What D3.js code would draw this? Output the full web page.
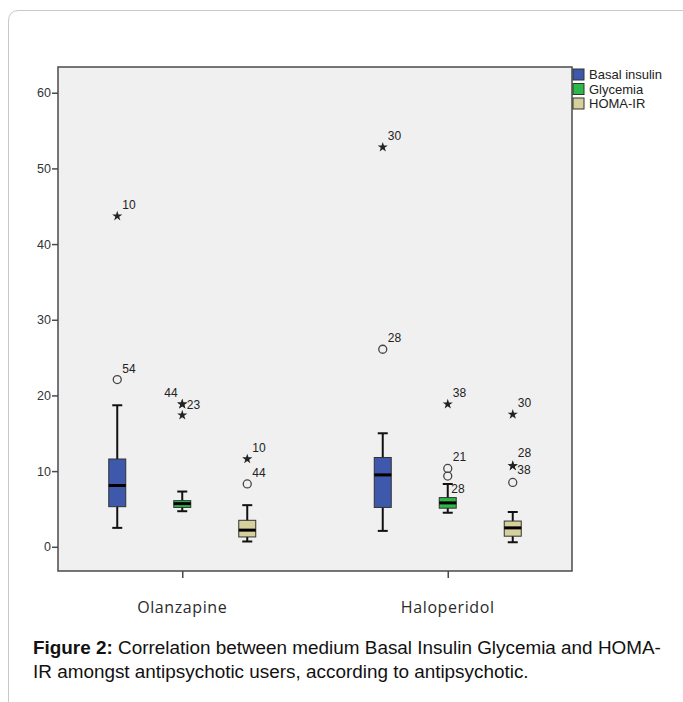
<!DOCTYPE html>
<html>
<head>
<meta charset="utf-8">
<script src="https://cdn.jsdelivr.net/npm/d3@7"></script>
<style>
  body { margin: 0; background: #fff; }
  #chart { position: relative; width: 683px; height: 702px; overflow: hidden; }
  .caption {
    position: absolute; left: 33px; top: 636px;
    font-family: 'Liberation Sans', Arial, sans-serif;
    font-size: 18.9px; line-height: 24px; color: #111; white-space: nowrap;
  }
</style>
</head>
<body>
<div id="chart"></div>
<script>
// categories
const groups = ['Olanzapine', 'Haloperidol'];
const series = ['Basal insulin', 'Glycemia', 'HOMA-IR'];
const yTicks = [0, 10, 20, 30, 40, 50, 60];

// box stats per series, one row per group: [low whisker, Q1, median, Q3, high whisker]
const basalInsulin = [[2.5, 5.3, 8.1, 11.6, 18.7], [2.1, 5.2, 9.5, 11.8, 15.0]];
const glycemia = [[4.7, 5.2, 5.7, 6.1, 7.3], [4.5, 5.1, 5.8, 6.5, 8.3]];
const homaIR = [[0.7, 1.3, 2.2, 3.5, 5.5], [0.6, 1.4, 2.5, 3.4, 4.6]];

// outliers: group, series, value, marker, case label, label side
const outliers = [
  ['Olanzapine', 'Basal insulin', 43.7, 'star', '10', 'ne'],
  ['Olanzapine', 'Basal insulin', 22.1, 'circle', '54', 'ne'],
  ['Olanzapine', 'Glycemia', 18.85, 'star', '44', 'nw'],
  ['Olanzapine', 'Glycemia', 18.85, 'star', '23', 'e'],
  ['Olanzapine', 'Glycemia', 17.4, 'star', '', 'ne'],
  ['Olanzapine', 'HOMA-IR', 11.6, 'star', '10', 'ne'],
  ['Olanzapine', 'HOMA-IR', 8.3, 'circle', '44', 'ne'],
  ['Haloperidol', 'Basal insulin', 52.8, 'star', '30', 'ne'],
  ['Haloperidol', 'Basal insulin', 26.1, 'circle', '28', 'ne'],
  ['Haloperidol', 'Glycemia', 18.85, 'star', '38', 'ne'],
  ['Haloperidol', 'Glycemia', 10.35, 'circle', '21', 'ne'],
  ['Haloperidol', 'Glycemia', 9.35, 'circle', '28', 'se'],
  ['Haloperidol', 'HOMA-IR', 17.5, 'star', '30', 'ne'],
  ['Haloperidol', 'HOMA-IR', 10.7, 'star', '28', 'n'],
  ['Haloperidol', 'HOMA-IR', 10.7, 'star', '38', 's'],
  ['Haloperidol', 'HOMA-IR', 8.5, 'circle', '', 'ne'],
];

const stats = [basalInsulin, glycemia, homaIR];
const colors = ['#3e58ac', '#2eb848', '#d6d09c'];

const width = 683;
const height = 702;
const plot = { left: 58, top: 67, right: 572, bottom: 571 };

const svg = d3.select('#chart')
  .append('svg')
  .attr('width', width)
  .attr('height', height)
  .style('position', 'absolute')
  .style('left', 0)
  .style('top', 0);

// card outline
svg.append('path')
  .attr('d', 'M8.5,702 V21 Q8.5,10.5 19,10.5 H683')
  .attr('fill', 'none')
  .attr('stroke', '#c8c8c8');

const y = d3.scaleLinear()
  .domain([-3.2, 63.4])
  .range([plot.bottom, plot.top]);

const x = d3.scalePoint()
  .domain(groups)
  .range([plot.left, plot.right])
  .padding(0.468);

const sub = d3.scaleBand()
  .domain(series)
  .range([-97.5, 97.5]);

const cx = (g, s) => x(g) + sub(s) + sub.bandwidth() / 2;

svg.append('rect')
  .attr('x', plot.left)
  .attr('y', plot.top)
  .attr('width', plot.right - plot.left)
  .attr('height', plot.bottom - plot.top)
  .attr('fill', '#f0f0f0')
  .attr('stroke', '#4a4a4a')
  .attr('stroke-width', 1.5);

// y axis
const yAxis = svg.append('g')
  .attr('transform', `translate(${plot.left},0)`)
  .call(d3.axisLeft(y).tickValues(yTicks).tickSize(6).tickPadding(1));
yAxis.select('.domain').remove();
yAxis.selectAll('line').attr('stroke', '#4a4a4a').attr('stroke-width', 1.5);
yAxis.selectAll('text')
  .attr('font-family', "'Liberation Sans', Arial, sans-serif")
  .attr('font-size', 12.5)
  .attr('fill', '#333');

// x axis
const xAxis = svg.append('g')
  .attr('transform', `translate(0,${plot.bottom})`)
  .call(d3.axisBottom(x).tickSize(7).tickFormat(() => ''));
xAxis.select('.domain').remove();
xAxis.selectAll('line').attr('stroke', '#4a4a4a').attr('stroke-width', 1.5);

svg.append('g')
  .selectAll('text')
  .data(groups)
  .join('text')
  .attr('x', (d) => x(d))
  .attr('y', 613)
  .attr('text-anchor', 'middle')
  .attr('font-family', "'Open Sans', sans-serif")
  .attr('font-size', 16)
  .attr('letter-spacing', 0.6)
  .attr('fill', '#2a2a2a')
  .text((d) => d);

// boxes
const boxes = [];
series.forEach((s, si) => {
  groups.forEach((g, gi) => {
    const [lo, q1, med, q3, hi] = stats[si][gi];
    boxes.push({ g, s, si, lo, q1, med, q3, hi });
  });
});

const boxW = 17;
const capW = 10;

const box = svg.append('g')
  .selectAll('g')
  .data(boxes)
  .join('g')
  .attr('transform', (d) => `translate(${cx(d.g, d.s)},0)`);

box.append('line')
  .attr('y1', (d) => y(d.lo))
  .attr('y2', (d) => y(d.hi))
  .attr('stroke', '#111')
  .attr('stroke-width', 2);

box.append('g')
  .selectAll('line')
  .data((d) => [d.lo, d.hi])
  .join('line')
  .attr('x1', -capW / 2)
  .attr('x2', capW / 2)
  .attr('y1', (v) => y(v))
  .attr('y2', (v) => y(v))
  .attr('stroke', '#111')
  .attr('stroke-width', 2);

box.append('rect')
  .attr('x', -boxW / 2)
  .attr('width', boxW)
  .attr('y', (d) => y(d.q3))
  .attr('height', (d) => y(d.q1) - y(d.q3))
  .attr('fill', (d) => colors[d.si])
  .attr('stroke', '#333')
  .attr('stroke-width', 1);

box.append('line')
  .attr('x1', -boxW / 2)
  .attr('x2', boxW / 2)
  .attr('y1', (d) => y(d.med))
  .attr('y2', (d) => y(d.med))
  .attr('stroke', '#000')
  .attr('stroke-width', 3);

// outliers
const star = d3.symbol().type(d3.symbolStar).size(32);
const labelSide = {
  ne: [5, -7], e: [4.5, 4.5], nw: [-18, -7], se: [3.5, 16.5], n: [5, -8.5], s: [4.5, 8.5],
};

const out = svg.append('g')
  .selectAll('g')
  .data(outliers)
  .join('g')
  .attr('transform', (d) => `translate(${cx(d[0], d[1])},${y(d[2])})`);

out.filter((d) => d[3] === 'star')
  .append('path')
  .attr('d', star)
  .attr('fill', '#222');

out.filter((d) => d[3] === 'circle')
  .append('circle')
  .attr('r', 4)
  .attr('fill', 'none')
  .attr('stroke', '#444')
  .attr('stroke-width', 1.3);

out.filter((d) => d[4] !== '')
  .append('text')
  .attr('x', (d) => labelSide[d[5]][0])
  .attr('y', (d) => labelSide[d[5]][1])
  .attr('font-family', "'Liberation Sans', Arial, sans-serif")
  .attr('font-size', 12)
  .attr('fill', '#222')
  .text((d) => d[4]);

// legend
const legend = svg.append('g')
  .attr('transform', `translate(${plot.right + 1},69)`)
  .selectAll('g')
  .data(series)
  .join('g')
  .attr('transform', (d, i) => `translate(0,${i * 14.5})`);

legend.append('rect')
  .attr('width', 11)
  .attr('height', 11)
  .attr('fill', (d, i) => colors[i])
  .attr('stroke', '#333');

legend.append('text')
  .attr('x', 16)
  .attr('y', 10)
  .attr('font-family', "'Liberation Sans', Arial, sans-serif")
  .attr('font-size', 13)
  .attr('fill', '#222')
  .text((d) => d);

d3.select('#chart')
  .append('div')
  .attr('class', 'caption')
  .html('<b>Figure 2:</b> Correlation between medium Basal Insulin Glycemia and HOMA-<br>IR amongst antipsychotic users, according to antipsychotic.');
</script>
</body>
</html>
